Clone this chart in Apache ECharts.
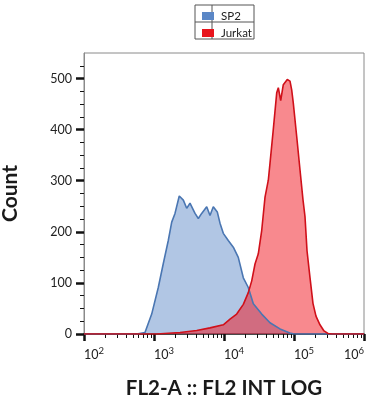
<!DOCTYPE html>
<html><head><meta charset="utf-8">
<script src="https://cdn.jsdelivr.net/npm/echarts@6/dist/echarts.min.js"></script>
<style>html,body{margin:0;padding:0;background:#fff}#c{width:373px;height:400px}</style>
</head><body><div id="c"></div>
<script>
// SP2 histogram: fluorescence intensity (FL2-A) vs count
const sp2X = [100, 447, 566, 743, 927, 1151, 1358, 1600, 1791, 1995, 2296, 2624, 2931, 3266, 3855, 4295, 4797, 5662, 6310, 7031, 8017, 8770, 9772, 11508, 13583, 15996, 18880, 22233, 26242, 34594, 45394, 63096, 87096, 100000, 1000000];
const sp2Count = [0, 0, 0, 3, 39, 91, 138, 183, 219, 236, 270, 262, 246, 256, 236, 226, 236, 249, 232, 249, 239, 217, 197, 183, 170, 150, 110, 91, 59, 39, 22, 10, 2, 0, 0];
// Jurkat histogram
const jurkatX = [100, 1094, 2350, 4074, 6310, 9772, 12190, 15171, 18880, 22233, 24889, 27733, 30903, 34594, 38548, 42954, 45394, 50582, 56624, 59704, 64565, 70307, 80168, 87700, 92683, 97724, 109396, 121899, 134586, 143549, 153462, 169434, 186638, 206063, 234963, 268534, 306196, 349140, 1000000];
const jurkatCount = [0, 0, 3, 7, 12, 18, 29, 39, 58, 81, 104, 137, 157, 203, 268, 301, 334, 400, 472, 482, 457, 488, 498, 495, 478, 452, 386, 321, 262, 230, 163, 110, 60, 35, 18, 6, 1, 0, 0];
// Axis ticks
const yMajorTicks = [0, 100, 200, 300, 400, 500];
const yMinorTicks = [25, 50, 75, 125, 150, 175, 225, 250, 275, 325, 350, 375, 425, 450, 475, 525];
const xMinorTicks = [];
[100, 1000, 10000, 100000].forEach(d => { for (let k = 2; k <= 9; k++) xMinorTicks.push(d * k); });
const seriesNames = ['SP2', 'Jurkat'];

const font = 'Lato, "DejaVu Sans", sans-serif';
const pair = (xs, ys) => xs.map((x, i) => [x, ys[i]]);
const chart = echarts.init(document.getElementById('c'));
chart.setOption({
  animation: false,
  textStyle: { fontFamily: font },
  grid: { left: 84, right: 9, top: 53, bottom: 66, containLabel: false, outerBoundsMode: 'none', show: true, borderColor: '#8a8a8a', borderWidth: 1 },
  legend: {
    orient: 'vertical', left: 197, top: 5, icon: 'rect', itemWidth: 12, itemHeight: 8, itemGap: 5,
    textStyle: { fontFamily: font, fontSize: 11.5, color: '#222', padding: [0, 0, 0, 2] },
    data: [
      { name: 'SP2', itemStyle: { color: '#5b87c6' } },
      { name: 'Jurkat', itemStyle: { color: '#e8141c' } }
    ]
  },
  graphic: [
    { type: 'rect', shape: { x: 195, y: 5, width: 59, height: 34 }, style: { fill: 'none', stroke: '#555', lineWidth: 1 } },
    { type: 'line', shape: { x1: 212, y1: 5, x2: 212, y2: 39 }, style: { stroke: '#555', lineWidth: 1 } },
    { type: 'line', shape: { x1: 195, y1: 22, x2: 254, y2: 22 }, style: { stroke: '#555', lineWidth: 1 } }
  ],
  xAxis: [
    {
      type: 'log', logBase: 10, min: 100, max: 1000000, position: 'bottom',
      name: 'FL2-A :: FL2 INT LOG', nameLocation: 'middle', nameGap: 44,
      nameTextStyle: { fontFamily: font, fontSize: 20.5, fontWeight: 'bold', color: '#1a1a1a' },
      axisLine: { show: true, lineStyle: { color: '#222', width: 1.5 } },
      axisTick: { show: true, length: 7, lineStyle: { color: '#111', width: 2.5 } },
      splitLine: { show: false },
      axisLabel: {
        margin: 12, align: 'left', alignMinLabel: 'left', alignMaxLabel: 'right',
        formatter: v => '{b|10}{s|' + Math.round(Math.log10(v)) + '}',
        rich: {
          b: { fontFamily: font, fontSize: 12.5, color: '#222' },
          s: { fontFamily: font, fontSize: 9.5, color: '#222', padding: [0, 0, 8, 0] }
        }
      }
    },
    {
      type: 'log', logBase: 10, min: 100, max: 1000000, position: 'bottom',
      axisLine: { show: false }, axisLabel: { show: false }, splitLine: { show: false },
      axisTick: { show: true, length: 4, customValues: xMinorTicks, lineStyle: { color: '#111', width: 1 } }
    }
  ],
  yAxis: [
    {
      type: 'value', min: 0, max: 550, interval: 100, position: 'left',
      name: 'Count', nameLocation: 'middle', nameGap: 63,
      nameTextStyle: { fontFamily: font, fontSize: 21, fontWeight: 'bold', color: '#1a1a1a' },
      axisLine: { show: true, lineStyle: { color: '#8a8a8a', width: 1 } },
      axisTick: { show: true, length: 8, customValues: yMajorTicks, lineStyle: { color: '#111', width: 2.5 } },
      axisLabel: { margin: 12, customValues: yMajorTicks, fontFamily: font, fontSize: 12.5, color: '#222' },
      splitLine: { show: false }
    },
    {
      type: 'value', min: 0, max: 550, position: 'left',
      axisLine: { show: false }, axisLabel: { show: false }, splitLine: { show: false },
      axisTick: { show: true, length: 4, customValues: yMinorTicks, lineStyle: { color: '#111', width: 1 } }
    }
  ],
  series: [
    {
      name: seriesNames[0], type: 'line', xAxisIndex: 0, yAxisIndex: 0, showSymbol: false, symbol: 'none',
      data: pair(sp2X, sp2Count),
      itemStyle: { color: '#5b87c6' },
      lineStyle: { color: '#4a76b2', width: 1.6 },
      areaStyle: { color: 'rgba(91,135,198,0.48)', opacity: 1 }
    },
    {
      name: seriesNames[1], type: 'line', xAxisIndex: 0, yAxisIndex: 0, showSymbol: false, symbol: 'none',
      data: pair(jurkatX, jurkatCount),
      itemStyle: { color: '#e8141c' },
      lineStyle: { color: '#d0101a', width: 1.6 },
      areaStyle: { color: 'rgba(242,20,30,0.5)', opacity: 1 }
    }
  ]
});
</script></body></html>
